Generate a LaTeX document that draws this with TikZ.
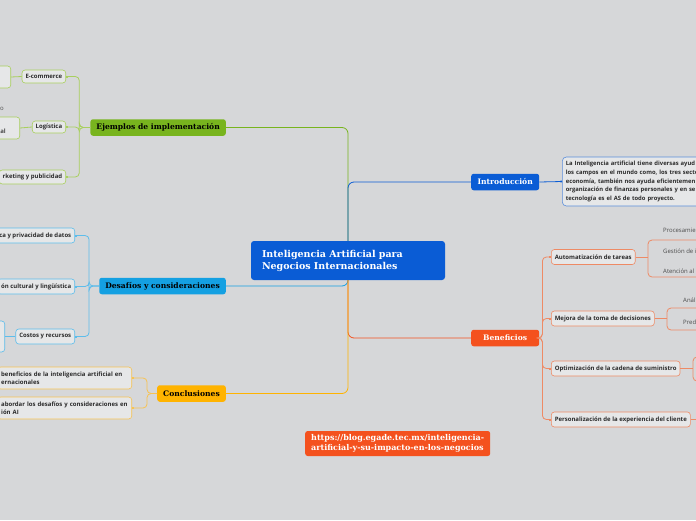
\documentclass[tikz,border=0pt]{standalone}
\usepackage{fontspec}
\setsansfont{Open Sans}
\newfontfamily\slab{DejaVu Serif}
\usetikzlibrary{arrows.meta,positioning}
\definecolor{mmBack}{HTML}{D6D7D9}
\definecolor{mmBlue}{HTML}{0A5CD5}
\definecolor{mmGreen}{HTML}{78B41E}
\definecolor{mmCyan}{HTML}{14A0E2}
\definecolor{mmYellow}{HTML}{FFB300}
\definecolor{mmOrange}{HTML}{F4511E}
\definecolor{mmGreenL}{HTML}{A8CF5E}
\definecolor{mmCyanL}{HTML}{5DBDEB}
\definecolor{mmYellowL}{HTML}{F7C353}
\definecolor{mmOrangeL}{HTML}{EE8A65}
\definecolor{mmBlueL}{HTML}{5B8EDB}
\definecolor{mmInk}{HTML}{2B2B2B}

\begin{document}
\begin{tikzpicture}[x=1pt,y=-1pt,>=Latex,
  hub/.style={fill=mmBlue,rounded corners=3pt,text=white,font=\slab\bfseries\fontsize{9.5}{12}\selectfont,align=left,text width=172pt,inner xsep=11pt,minimum height=39pt},
  topic/.style={fill=#1,rounded corners=2.5pt,font=\slab\bfseries\fontsize{7.6}{9}\selectfont,inner xsep=6pt,inner ysep=0pt,minimum height=16.5pt},
  sub/.style={draw=#1,fill=mmBack!60!white,rounded corners=3pt,line width=0.6pt,font=\sffamily\bfseries\fontsize{6}{7.5}\selectfont,text=mmInk,inner xsep=3.5pt,inner ysep=0pt,minimum height=14pt},
  leaf/.style={font=\sffamily\fontsize{6}{7.5}\selectfont,text=mmInk!85,inner sep=0pt,anchor=west},
  ln/.style={draw=#1,line width=0.8pt,rounded corners=4pt},
  dotend/.style={-{Square[length=1.6pt,width=1.6pt]}}]
  \useasboundingbox (0,0) rectangle (696,520);
  \fill[mmBack] (0,0) rectangle (696,520);
  \clip (0,0) rectangle (696,520);

  % centre and main topics
  \node[hub] (ia) at (348,260.5) {Inteligencia Artificial para\\Negocios Internacionales};
  \node[topic=mmGreen,anchor=east] (ej) at (226,127.5) {Ejemplos de implementación};
  \node[topic=mmCyan,anchor=east] (des) at (226,286) {Desafíos y consideraciones};
  \node[topic=mmYellow,anchor=east] (con) at (226,393.5) {Conclusiones};
  \node[topic=mmBlue,anchor=west,text=white,minimum width=68pt] (intro) at (471,182) {Introducción};
  \node[topic=mmOrange,anchor=west,text=white,minimum width=68pt] (ben) at (471,338) {Beneficios\hspace{8pt}};
  \node[fill=mmOrange,rounded corners=2.5pt,text=white,font=\slab\bfseries\fontsize{8}{9.5}\selectfont,align=left,anchor=west,inner xsep=6pt,minimum height=25pt] (url) at (305,443.5) {https://blog.egade.tec.mx/inteligencia-\\artificial-y-su-impacto-en-los-negocios};

  \draw[ln=mmGreen,rounded corners=6pt] (ia.north) |- (ej.east);
  \draw[ln=mmBlue,rounded corners=6pt] (ia.north) |- (intro.west);
  \draw[ln=mmCyan,rounded corners=6pt] (ia.south) |- (des.east);
  \draw[ln=mmOrange,rounded corners=6pt] (ia.south) |- (ben.west);
  \draw[ln=mmYellow,rounded corners=6pt] (ia.south) |- (con.east);

  % Ejemplos de implementacion
  \node[sub=mmGreenL,anchor=east,minimum height=13pt] (ec) at (66,76.5) {E-commerce};
  \node[sub=mmGreenL,anchor=east,minimum height=12pt] (lo) at (66,127) {Logística};
  \node[sub=mmGreenL,anchor=east] (mk) at (66,177) {rketing y publicidad};
  \foreach \c in {ec,lo,mk}
    \draw[ln=mmGreenL,dotend] (ej.west) -- ++(-11,0) |- (\c.east);
  \node[sub=mmGreenL,anchor=east,minimum width=40pt,minimum height=22pt] (ecx) at (11,77) {};
  \node[sub=mmGreenL,anchor=east,minimum width=40pt,minimum height=22pt] (lox) at (20,128) {};
  \draw[ln=mmGreenL] (ec.west) -- (ecx.east);
  \draw[ln=mmGreenL] (lo.west) -- (lox.east);
  \node[leaf,anchor=east] (lo1) at (4,109) {o};
  \node[leaf,anchor=east,font=\sffamily\bfseries\fontsize{6}{7.5}\selectfont] (lo2) at (6,131) {al};

  % Desafios y consideraciones
  \node[sub=mmCyanL,anchor=east,minimum height=15pt] (et) at (75,235.5) {ca y privacidad de datos};
  \node[sub=mmCyanL,anchor=east,minimum height=15pt] (ad) at (75,286.5) {ón cultural y lingüística};
  \node[sub=mmCyanL,anchor=east,minimum height=15pt] (co) at (75,336.5) {Costos y recursos};
  \foreach \c in {et,ad,co}
    \draw[ln=mmCyanL,dotend] (des.west) -- ++(-10,0) |- (\c.east);
  \node[sub=mmCyanL,anchor=east,minimum width=30pt,minimum height=31pt] (cox) at (5,336.5) {};
  \draw[ln=mmCyanL] (co.west) -- (cox.east);

  % Conclusiones
  \node[sub=mmYellowL,anchor=east,align=left,text width=127pt,minimum height=22pt] (c1) at (132,378) {beneficios de la inteligencia artificial en\\ernacionales};
  \node[sub=mmYellowL,anchor=east,align=left,text width=127pt,minimum height=22pt] (c2) at (132,408) {abordar los desafíos y consideraciones en\\ión AI};
  \foreach \c in {c1,c2}
    \draw[ln=mmYellowL,dotend] (con.west) -- ++(-10,0) |- (\c.east);

  % Introduccion
  \node[sub=mmBlueL,anchor=west,align=left,text width=150pt,minimum height=49pt,rounded corners=4pt,font=\sffamily\bfseries\fontsize{5.85}{8.8}\selectfont] (intxt) at (562,181.5)
    {La Inteligencia artificial tiene diversas ayud\\los campos en el mundo como, los tres secto\\economía, también nos ayuda eficientemen\\organización de finanzas personales y en se\\tecnología es el AS de todo proyecto.};
  \draw[ln=mmBlue,dotend] (intro.east) -- (intxt.west);

  % Beneficios
  \node[sub=mmOrangeL,anchor=west,minimum height=15pt] (au) at (551,257) {Automatización de tareas};
  \node[sub=mmOrangeL,anchor=west,minimum height=15pt] (me) at (551,318.5) {Mejora de la toma de decisiones};
  \node[sub=mmOrangeL,anchor=west,minimum height=15pt] (op) at (551,368.5) {Optimización de la cadena de suministro};
  \node[sub=mmOrangeL,anchor=west,minimum height=15pt] (pe) at (551,419.5) {Personalización de la experiencia del cliente};
  \foreach \c in {au,me,op,pe}
    \draw[ln=mmOrangeL,dotend] (ben.east) -- ++(3,0) |- (\c.west);

  \coordinate (auB) at (648,257);
  \coordinate (meB) at (667,318.5);
  \coordinate (opB) at (693,368.5);
  \coordinate (peB) at (700,419.5);
  \draw[ln=mmOrangeL] (au.east) -- (auB);
  \draw[ln=mmOrangeL] (me.east) -- (meB);
  \draw[ln=mmOrangeL] (op.east) -- (opB);
  \draw[ln=mmOrangeL] (pe.east) -- (peB);
  \draw[ln=mmOrangeL] (700,240) -- (648,240) -- (648,277) -- (700,277);
  \draw[ln=mmOrangeL] (700,308) -- (667,308) -- (667,330) -- (700,330);
  \draw[ln=mmOrangeL] (700,357) -- (693,357) -- (693,381) -- (700,381);
  \node[leaf] (au1) at (663,230) {Procesamie};
  \node[leaf] (au2) at (663,251) {Gestión de i};
  \node[leaf] (au3) at (663,271) {Atención al};
  \node[leaf] (me1) at (683,300) {Anál};
  \node[leaf] (me2) at (683,322) {Pred};
\end{tikzpicture}
\end{document}
